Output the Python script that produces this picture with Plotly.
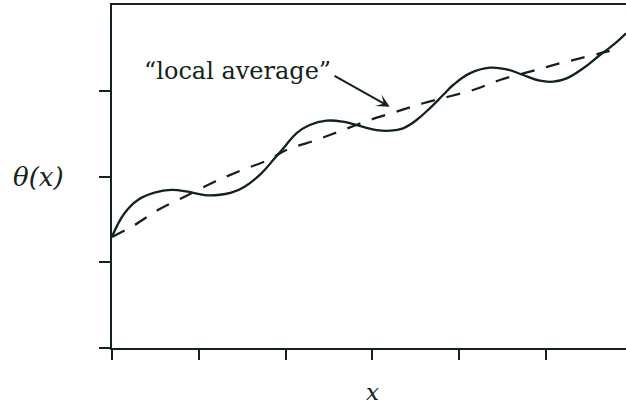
import plotly.graph_objects as go

# Solid curve theta(x)
theta_x = [0.0, 0.144, 0.298, 0.490, 0.683, 0.874, 1.067, 1.220, 1.375, 1.528, 1.721, 1.874,
           1.990, 2.125, 2.278, 2.471, 2.662, 2.855, 3.047, 3.201, 3.354, 3.509, 3.662, 3.815,
           3.931, 4.123, 4.354, 4.547, 4.738, 4.931, 5.084, 5.239, 5.430, 5.623, 5.776, 5.923]
theta_y = [1.298, 1.571, 1.726, 1.811, 1.843, 1.823, 1.784, 1.784, 1.811, 1.881, 2.037, 2.212,
           2.348, 2.504, 2.601, 2.651, 2.639, 2.589, 2.542, 2.534, 2.562, 2.659, 2.795, 2.950,
           3.067, 3.203, 3.269, 3.250, 3.184, 3.117, 3.106, 3.145, 3.262, 3.417, 3.534, 3.670]

# Dashed "local average" curve
avg_x = [0.0, 0.260, 0.528, 0.836, 1.182, 1.451, 1.797, 2.009, 2.355, 2.662, 2.970, 3.278,
         3.585, 4.161, 4.469, 4.815, 5.084, 5.392, 5.700, 5.796]
avg_y = [1.294, 1.434, 1.609, 1.764, 1.939, 2.056, 2.192, 2.309, 2.426, 2.542, 2.659, 2.756,
         2.854, 3.009, 3.125, 3.222, 3.300, 3.378, 3.455, 3.483]

x_ticks = [0, 1, 2, 3, 4, 5, 6]
y_ticks = [0, 1, 2, 3]

INK = "#13231a"
SERIF = "DejaVu Serif"

fig = go.Figure()
fig.add_trace(go.Scatter(x=avg_x, y=avg_y, mode="lines",
                         line=dict(color=INK, width=2.3, dash="14px,12px", shape="spline"),
                         hoverinfo="skip"))
fig.add_trace(go.Scatter(x=theta_x, y=theta_y, mode="lines",
                         line=dict(color=INK, width=2.3, shape="spline", smoothing=1.2),
                         hoverinfo="skip"))

# label and arrow
fig.add_annotation(x=1.45, y=3.23, xref="x", yref="y", text="“local average”",
                   showarrow=False, font=dict(family=SERIF, size=24, color=INK),
                   xanchor="center", yanchor="middle")
fig.add_annotation(x=3.20, y=2.814, xref="x", yref="y", ax=2.547, ay=3.184,
                   axref="x", ayref="y", text="", showarrow=True,
                   arrowhead=3, arrowsize=1.1, arrowwidth=2, arrowcolor=INK)

# axis labels
fig.add_annotation(x=(39 - 112.5) / 513.5, y=(348 - 177) / 343, xref="paper", yref="paper",
                   text="<i>θ(x)</i>", showarrow=False,
                   font=dict(family=SERIF, size=26, color=INK),
                   xanchor="center", yanchor="middle")
fig.add_annotation(x=(372.5 - 112.5) / 513.5, y=(348 - 406) / 343, xref="paper", yref="paper",
                   text="<i>x</i>", showarrow=False, borderpad=0,
                   font=dict(family=SERIF, size=23, color=INK),
                   xanchor="center", yanchor="bottom")

fig.update_layout(
    width=626, height=406,
    margin=dict(l=112, r=0, t=5, b=58),
    paper_bgcolor="white", plot_bgcolor="white",
    showlegend=False,
    xaxis=dict(range=[0, 5.923], tickvals=x_ticks, showticklabels=False,
               ticks="outside", ticklen=10, tickwidth=2, tickcolor=INK,
               showline=True, linewidth=2, linecolor=INK, mirror=True,
               showgrid=False, zeroline=False),
    yaxis=dict(range=[0, 4], tickvals=y_ticks, showticklabels=False,
               ticks="outside", ticklen=11, tickwidth=2, tickcolor=INK,
               showline=True, linewidth=2, linecolor=INK, mirror=False,
               showgrid=False, zeroline=False),
)

fig.write_html("out.html", config={"displayModeBar": False},
               post_script="document.body.style.margin='0';document.body.style.overflow='hidden';")
